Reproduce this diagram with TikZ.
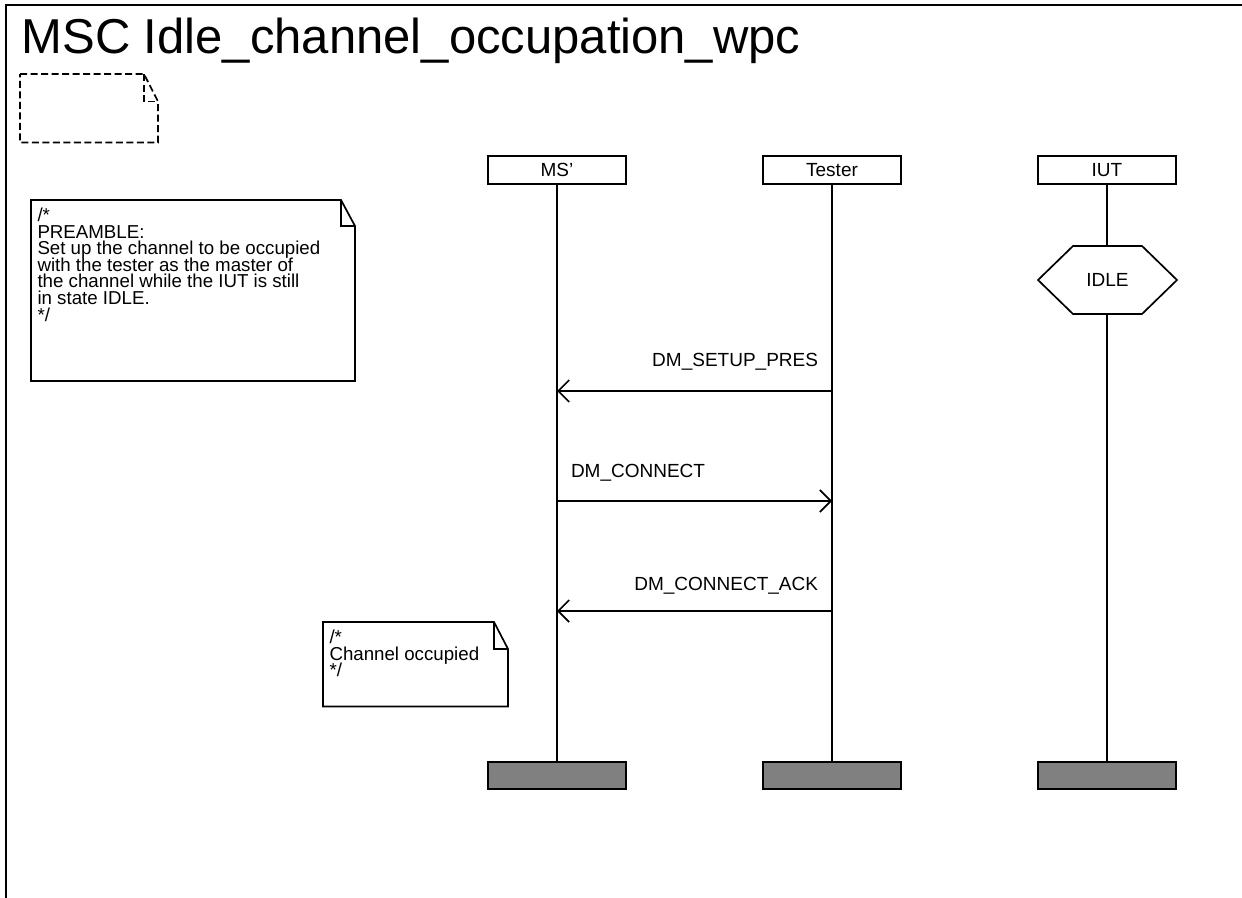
\documentclass[tikz,border=0pt]{standalone}
\usepackage{fontspec}
\setmainfont{Liberation Sans}
\usetikzlibrary{arrows.meta}
\definecolor{endgray}{RGB}{128,128,128}
\newcommand\tightlines{\lineskiplimit=-50pt\relax}
\begin{document}
\begin{tikzpicture}[x=1pt,y=-1pt,
  every node/.style={inner sep=0pt, outer sep=0pt},
  lbl/.style={font=\fontsize{19}{22}\selectfont},
  cmttext/.style={align=left, anchor=north west, font=\fontsize{18.7}{16.6}\selectfont\tightlines},
  headbox/.style={draw, line width=1.7pt, minimum width=138pt, minimum height=28pt, font=\fontsize{19}{22}\selectfont},
  endbox/.style={draw, fill=endgray, line width=1.7pt, minimum width=138pt, minimum height=27pt},
  life/.style={line width=1.7pt},
  msg/.style={line width=1.7pt, -{Straight Barb[length=11pt,width=22pt,line width=1.7pt]}},
  cmt/.style={line width=1.7pt, line join=miter},
  dashbox/.style={line width=1.7pt, dash pattern=on 7pt off 3.5pt}
]
\useasboundingbox (0,0) rectangle (1242,897);
\clip (0,0) rectangle (1242,897);
\fill[white] (0,0) rectangle (1242,897);
% frame
\draw[line width=2pt] (6,5) rectangle (1300,960);
\node[anchor=base west, font=\fontsize{49}{58}\selectfont] (title) at (21.5,53.5) {MSC Idle\_channel\_occupation\_wpc};
% dashed document symbol
\draw[dashbox] (20,74) -- (144,74) -- (158,101.5) -- (158,142.5) -- (20,142.5) -- cycle;
\draw[dashbox] (144,74) -- (144,101.5) -- (158,101.5);
% instance heads
\node[headbox] (hMS) at (557,170) {MS'};
\node[headbox] (hT) at (832,170) {Tester};
\node[headbox] (hIUT) at (1107,170) {IUT};
% instance ends
\node[endbox] (eMS) at (557,775.5) {};
\node[endbox] (eT) at (832,775.5) {};
\node[endbox] (eIUT) at (1107,775.5) {};
% lifelines
\draw[life] (hMS.south) -- (eMS.north);
\draw[life] (hT.south) -- (eT.north);
\coordinate (idleTop) at (1107,246);
\coordinate (idleBot) at (1107,314);
\draw[life] (hIUT.south) -- (idleTop);
\draw[life] (idleBot) -- (eIUT.north);
% IDLE state
\draw[cmt] (1073,246) -- (1142,246) -- (1177,280) -- (1142,314) -- (1073,314) -- (1038,280) -- cycle;
\node[lbl] (idle) at (1107.5,280) {IDLE};
% preamble comment
\draw[cmt] (31,200) -- (341,200) -- (355,226) -- (355,381) -- (31,381) -- cycle;
\draw[cmt] (341,200) -- (341,226) -- (355,226);
\node[cmttext] (c1) at (37.5,208) {/*\\PREAMBLE:\\Set up the channel to be occupied\\with the tester as the master of\\the channel while the IUT is still\\in state IDLE.\\{*/}};
% messages
\coordinate (m1a) at (832,391);
\coordinate (m1b) at (557,391);
\draw[msg] (m1a) -- (m1b);
\node[lbl, anchor=base east] (l1) at (818,366.5) {DM\_SETUP\_PRES};
\coordinate (m2a) at (557,501);
\coordinate (m2b) at (832,501);
\draw[msg] (m2a) -- (m2b);
\node[lbl, anchor=base west] (l2) at (571,477) {DM\_CONNECT};
\coordinate (m3a) at (832,611);
\coordinate (m3b) at (557,611);
\draw[msg] (m3a) -- (m3b);
\node[lbl, anchor=base east] (l3) at (818,590) {DM\_CONNECT\_ACK};
% channel occupied comment
\draw[cmt] (323,622) -- (494,622) -- (508,649) -- (508,706.5) -- (323,706.5) -- cycle;
\draw[cmt] (494,622) -- (494,649) -- (508,649);
\node[cmttext] (c2) at (329.5,630) {/*\\Channel occupied\\{*/}};
\end{tikzpicture}
\end{document}
